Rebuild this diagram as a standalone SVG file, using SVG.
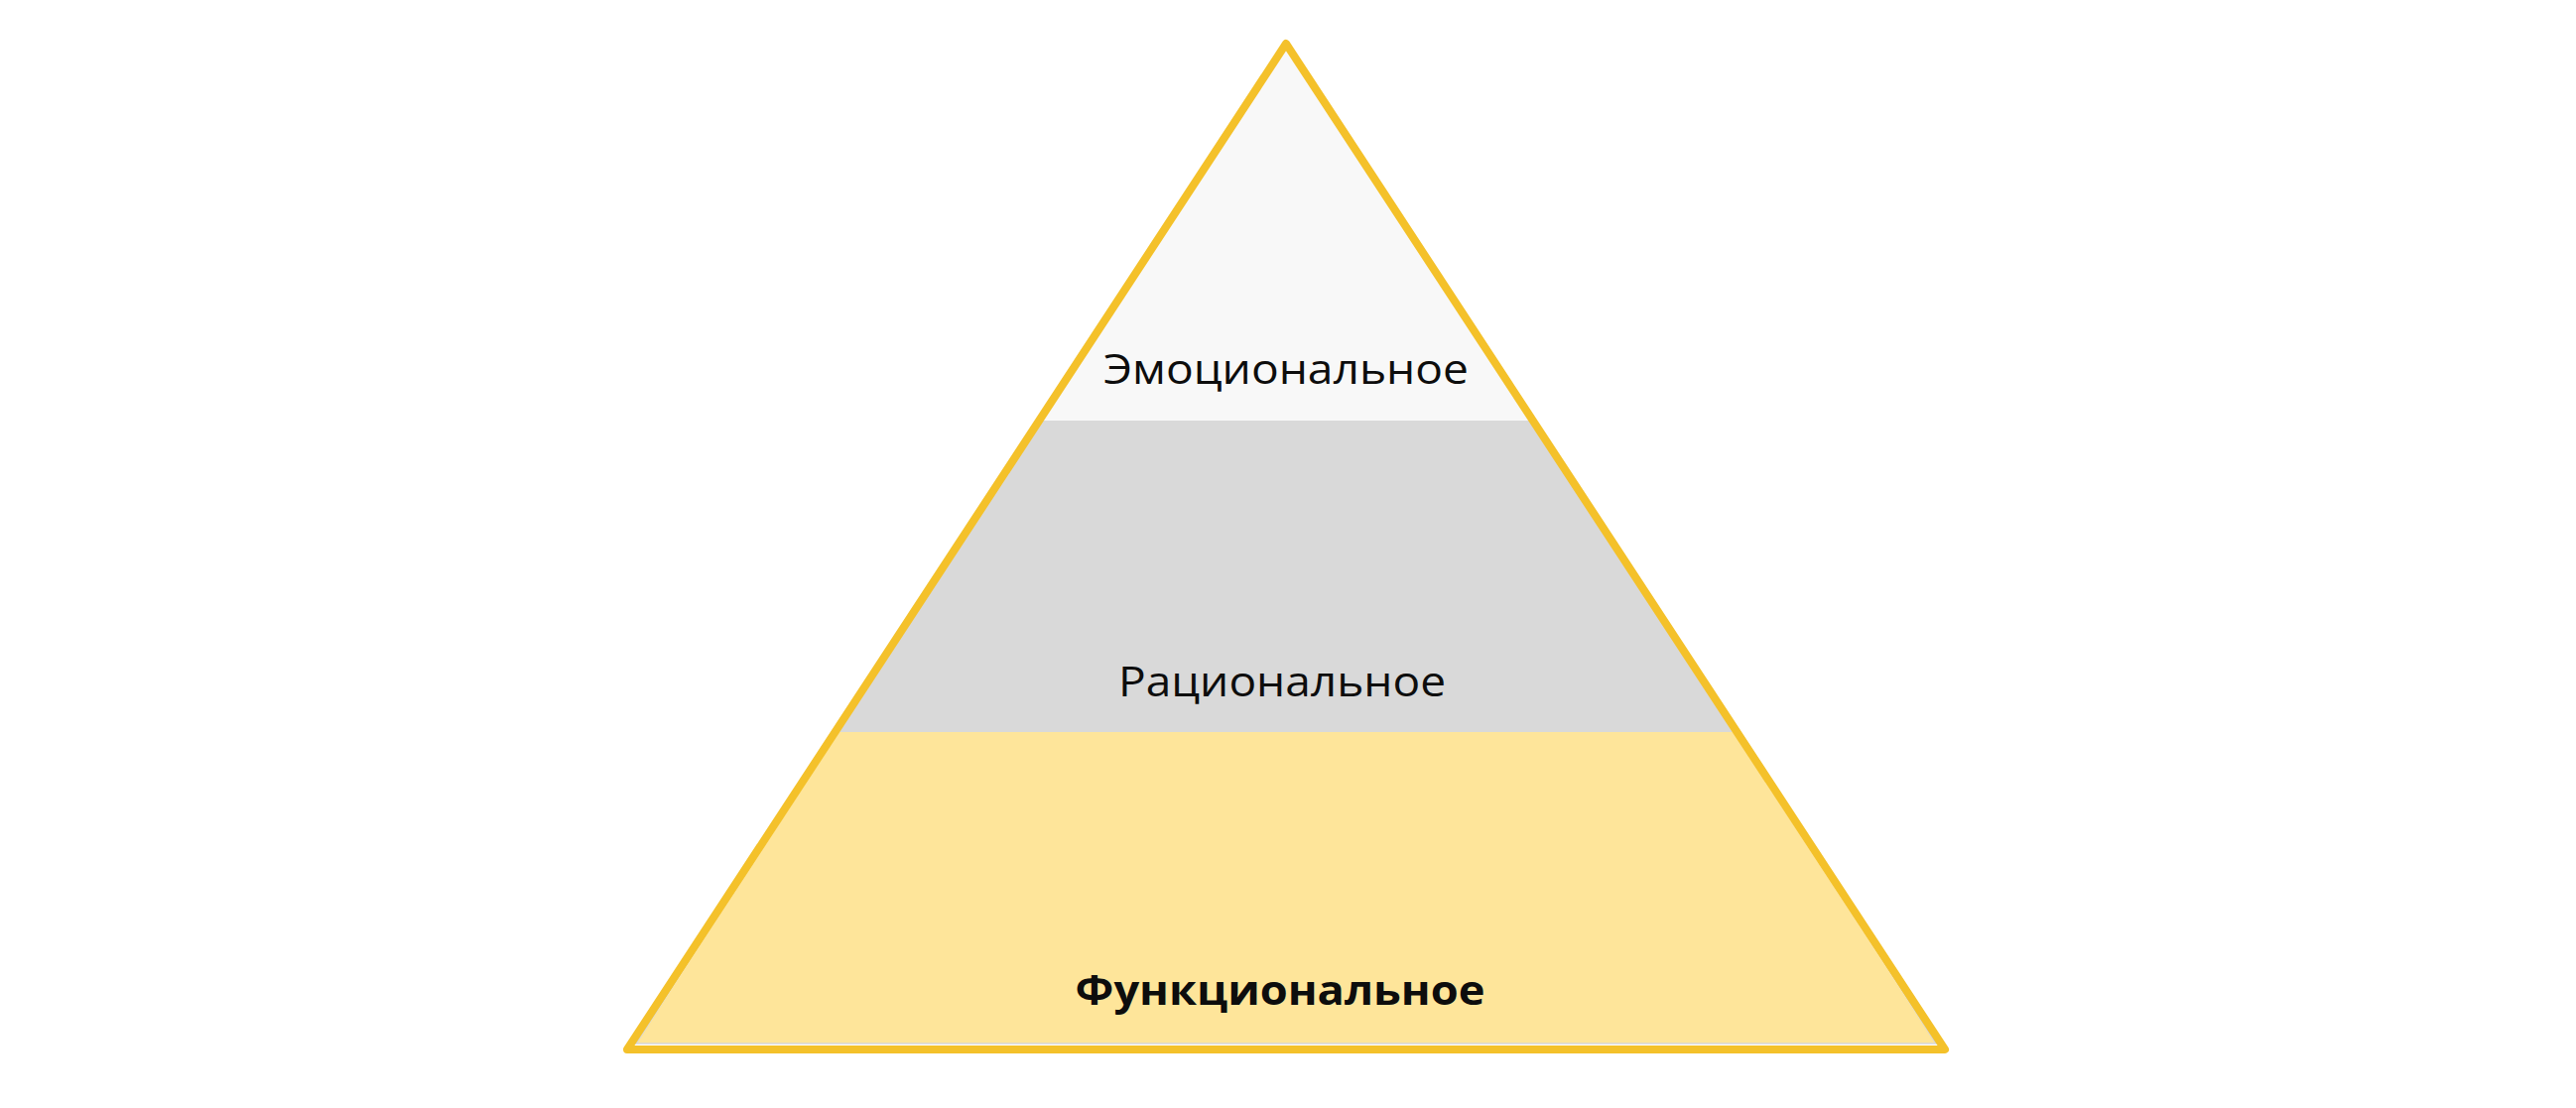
<svg xmlns="http://www.w3.org/2000/svg" width="2596" height="1117" viewBox="0 0 2596 1117">
  <style>
    .lbl { font-family: "Open Sans", "Liberation Sans", sans-serif; font-size: 42px; fill: #0d0d0d; text-anchor: middle; }
    .bold { font-weight: bold; font-size: 41px; }
  </style>
  <defs>
    <clipPath id="inner">
      <polygon points="1296,48 1951,1052 641,1052"/>
    </clipPath>
  </defs>
  <rect width="2596" height="1117" fill="#ffffff"/>
  <g clip-path="url(#inner)">
    <g id="level-emotional">
      <rect x="600" y="0" width="1400" height="424" fill="#f8f8f8"/>
    </g>
    <g id="level-rational">
      <rect x="600" y="424" width="1400" height="314" fill="#d9d9d9"/>
    </g>
    <g id="level-functional">
      <rect x="600" y="738" width="1400" height="314" fill="#fee59a"/>
    </g>
  </g>
  <polyline points="841,738 641,1052 1951,1052 1751,738" fill="none" stroke="#d6d6d6" stroke-width="1.5"/>
  <g id="pyramid-outline">
    <polygon points="1296,44 1960,1058 632,1058" fill="none" stroke="#f4c12a" stroke-width="8" stroke-linejoin="round"/>
  </g>
  <g id="labels">
    <text class="lbl" x="1296" y="387" textLength="368" lengthAdjust="spacingAndGlyphs">Эмоциональное</text>
    <text class="lbl" x="1292" y="702" textLength="330" lengthAdjust="spacingAndGlyphs">Рациональное</text>
    <text class="lbl bold" x="1290" y="1013" textLength="413" lengthAdjust="spacingAndGlyphs">Функциональное</text>
  </g>
</svg>
